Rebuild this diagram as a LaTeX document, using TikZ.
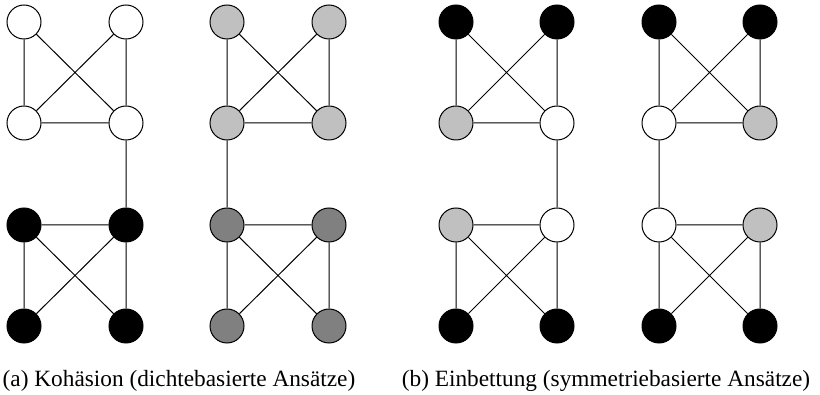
\documentclass[tikz,border=0pt]{standalone}
\usepackage{fontspec}
\setmainfont{Liberation Serif}
\definecolor{lgray}{HTML}{C0C0C0}
\definecolor{dgray}{HTML}{808080}
\begin{document}
\begin{tikzpicture}[x=1pt,y=-1pt,
  vx/.style={circle,draw=black,line width=1pt,minimum size=34pt,inner sep=0pt},
  edge/.style={line width=1pt,draw=black},
  captext/.style={font=\fontsize{23.3}{28}\selectfont,inner sep=0pt}]
\useasboundingbox (0,0) rectangle (820,395);
\foreach \p/\xl/\xr/\a/\b/\c/\d/\e/\f/\g/\h/\s/\t in {
  ga/24/126/white/white/white/white/black/black/black/black/4/6,
  gb/227/329/lgray/lgray/lgray/lgray/dgray/dgray/dgray/dgray/3/5,
  gc/456/557/black/black/lgray/white/lgray/white/black/black/4/6,
  gd/659/760/black/black/white/lgray/white/lgray/black/black/3/5}{
  \node[vx,fill=\a] (\p1) at (\xl,22) {};
  \node[vx,fill=\b] (\p2) at (\xr,22) {};
  \node[vx,fill=\c] (\p3) at (\xl,123) {};
  \node[vx,fill=\d] (\p4) at (\xr,123) {};
  \node[vx,fill=\e] (\p5) at (\xl,225) {};
  \node[vx,fill=\f] (\p6) at (\xr,225) {};
  \node[vx,fill=\g] (\p7) at (\xl,326) {};
  \node[vx,fill=\h] (\p8) at (\xr,326) {};
  \draw[edge] (\p1)--(\p3) (\p2)--(\p4) (\p1)--(\p4) (\p2)--(\p3) (\p3)--(\p4)
              (\p5)--(\p6) (\p5)--(\p7) (\p6)--(\p8) (\p5)--(\p8) (\p6)--(\p7)
              (\p\s)--(\p\t);
}
\node[captext,anchor=base] (capa) at (179,387) {(a) Kohäsion (dichtebasierte Ansätze)};
\node[captext,anchor=base] (capb) at (606,387) {(b) Einbettung (symmetriebasierte Ansätze)};
\end{tikzpicture}
\end{document}
